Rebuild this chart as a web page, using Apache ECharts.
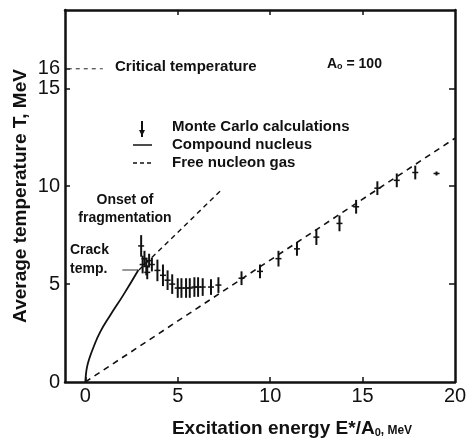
<!DOCTYPE html>
<html>
<head>
<meta charset="utf-8">
<script src="https://cdn.jsdelivr.net/npm/echarts@6/dist/echarts.min.js"></script>
<style>html,body{margin:0;padding:0;background:#fff}#c{width:472px;height:440px}</style>
</head>
<body>
<div id="c"></div>
<script>
// ---- data ----
var xTicks = [0, 5, 10, 15, 20];
var yTickLabels = [0, 5, 10, 15];
var yCriticalLabel = [16];
var yTicksRight = [5, 10, 15];
// Compound nucleus curve (E*/A0, T)
var compoundE = [0, 0.04, 0.1, 0.2, 0.43, 0.8, 1.34, 2.06, 2.87];
var compoundT = [0, 0.45, 0.8, 1.15, 1.75, 2.55, 3.4, 4.45, 5.72];
// Free nucleon gas (straight line)
var gasE = [0, 20];
var gasT = [0, 12.45];
// Onset of fragmentation (dashed)
var onsetE = [2.9, 7.3];
var onsetT = [5.72, 9.75];
// Critical temperature marker
var criticalE = [-0.95, 0.95];
var criticalT = [16, 16];
// Crack temperature pointer
var crackE = [2.0, 2.85];
var crackT = [5.72, 5.72];
// Monte Carlo calculations: energy, temperature, half error
var mcE = [3.02, 3.1, 3.2, 3.3, 3.45, 3.6, 3.35, 3.9, 4.2, 4.45, 4.7, 5.0, 5.2, 5.45, 5.65, 5.9, 6.1, 6.35, 6.8, 7.2, 8.45, 9.45, 10.45, 11.45, 12.5, 13.75, 14.65, 15.8, 16.85, 17.85, 19.0];
var mcT = [6.95, 6.0, 6.3, 5.9, 6.2, 6.0, 5.6, 5.7, 5.45, 5.2, 5.0, 4.8, 4.8, 4.8, 4.8, 4.85, 4.85, 4.85, 4.85, 4.95, 5.3, 5.65, 6.3, 6.8, 7.4, 8.1, 8.95, 9.9, 10.3, 10.7, 10.65];
var mcErr = [0.5, 0.4, 0.35, 0.4, 0.3, 0.3, 0.3, 0.5, 0.5, 0.45, 0.45, 0.45, 0.45, 0.45, 0.45, 0.45, 0.45, 0.4, 0.35, 0.35, 0.3, 0.3, 0.35, 0.3, 0.35, 0.35, 0.3, 0.3, 0.3, 0.3, 0.05];

function pairs(a, b) { return a.map(function (v, i) { return [v, b[i]]; }); }
var mcData = mcE.map(function (v, i) { return [v, mcT[i], mcErr[i]]; });

var FONT = 'Liberation Sans, Arial, sans-serif';
var INK = '#111';
var chart = echarts.init(document.getElementById('c'));

function frameAxis(extra) {
  var base = {
    type: 'value',
    axisLine: { onZero: false, lineStyle: { color: INK, width: 2.5 } },
    splitLine: { show: false }
  };
  for (var k in extra) base[k] = extra[k];
  return base;
}

chart.setOption({
  animation: false,
  backgroundColor: '#fff',
  grid: { left: 65, top: 10, width: 390, height: 372, containLabel: false, outerBoundsMode: 'none' },
  xAxis: [
    frameAxis({ position: 'bottom', min: -1.1, max: 20,
      axisTick: { inside: true, length: 5, customValues: [0, 5, 10, 15], lineStyle: { color: INK, width: 1.5 } },
      axisLabel: { customValues: xTicks, color: INK, fontSize: 20, fontFamily: FONT, margin: 4 } }),
    frameAxis({ position: 'top', min: -1.1, max: 20,
      axisTick: { inside: true, length: 5, customValues: [5, 10, 15], lineStyle: { color: INK, width: 1.5 } },
      axisLabel: { show: false } })
  ],
  yAxis: [
    frameAxis({ position: 'left', min: 0, max: 19,
      name: 'Average temperature T, MeV', nameLocation: 'middle', nameGap: 35, nameRotate: 90, nameMoveOverlap: false,
      nameTextStyle: { color: INK, fontSize: 19, fontWeight: 'bold', fontFamily: FONT },
      axisTick: { inside: true, length: 5, customValues: [5, 10, 15, 16], lineStyle: { color: INK, width: 1.5 } },
      axisLabel: { customValues: yTickLabels, color: INK, fontSize: 20, fontFamily: FONT, margin: 5 } }),
    frameAxis({ position: 'right', min: 0, max: 19,
      axisTick: { inside: true, length: 6, customValues: yTicksRight, lineStyle: { color: INK, width: 1.5 } },
      axisLabel: { show: false } }),
    { type: 'value', position: 'left', min: 0, max: 19,
      axisLine: { show: false, onZero: false }, axisTick: { show: false }, splitLine: { show: false },
      axisLabel: { customValues: yCriticalLabel, color: INK, fontSize: 20, fontFamily: FONT, margin: 5 } }
  ],
  series: [
    { type: 'line', data: pairs(compoundE, compoundT), smooth: 0.5, symbol: 'none', silent: true,
      lineStyle: { color: INK, width: 1.8 } },
    { type: 'line', data: pairs(gasE, gasT), symbol: 'none', silent: true,
      lineStyle: { color: INK, width: 1.6, type: [6, 5] } },
    { type: 'line', data: pairs(onsetE, onsetT), symbol: 'none', silent: true,
      lineStyle: { color: INK, width: 1.4, type: [5, 4] } },
    { type: 'line', data: pairs(criticalE, criticalT), symbol: 'none', silent: true,
      lineStyle: { color: '#444', width: 1.2, type: [4, 4] } },
    { type: 'line', data: pairs(crackE, crackT), symbol: 'none', silent: true,
      lineStyle: { color: '#333', width: 1.2 } },
    { type: 'custom', data: mcData, silent: true,
      renderItem: function (params, api) {
        var x = api.value(0), y = api.value(1), h = api.value(2);
        var t = api.coord([x, y + h]), b = api.coord([x, y - h]), c = api.coord([x, y]);
        return { type: 'group', children: [
          { type: 'line', shape: { x1: t[0], y1: t[1] - 1, x2: b[0], y2: b[1] + 1 }, style: { stroke: INK, lineWidth: 2 } },
          { type: 'line', shape: { x1: c[0] - 3, y1: c[1], x2: c[0] + 3, y2: c[1] }, style: { stroke: INK, lineWidth: 1.5 } }
        ] };
      }
    }
  ],
  graphic: [
    { type: 'text', x: 292, y: 429, style: {
        text: '{a|Excitation energy E*/A}{b|0}{c|, MeV}', align: 'center', verticalAlign: 'middle',
        rich: { a: { fontSize: 19, fontWeight: 'bold', fontFamily: FONT, fill: INK, lineHeight: 22 },
                b: { fontSize: 11, fontWeight: 'bold', fontFamily: FONT, fill: INK, padding: [8, 0, 0, 0] },
                c: { fontSize: 12, fontWeight: 'bold', fontFamily: FONT, fill: INK, padding: [4, 0, 0, 0] } } } },
    { type: 'text', x: 115, y: 67, style: { text: 'Critical temperature', font: 'bold 15px ' + FONT, fill: INK, verticalAlign: 'middle' } },
    { type: 'text', x: 327, y: 64, style: {
        text: '{a|A}{b|o}{a| = 100}', verticalAlign: 'middle',
        rich: { a: { fontSize: 14, fontWeight: 'bold', fontFamily: FONT, fill: INK, lineHeight: 18 },
                b: { fontSize: 9, fontWeight: 'bold', fontFamily: FONT, fill: INK, padding: [6, 0, 0, 0] } } } },
    // legend
    { type: 'line', shape: { x1: 142, y1: 121, x2: 142, y2: 137 }, style: { stroke: INK, lineWidth: 2 } },
    { type: 'polygon', shape: { points: [[139, 130], [145, 130], [142, 136]] }, style: { fill: INK } },
    { type: 'text', x: 172, y: 127, style: { text: 'Monte Carlo calculations', font: 'bold 15px ' + FONT, fill: INK, verticalAlign: 'middle' } },
    { type: 'line', shape: { x1: 133, y1: 145, x2: 152, y2: 145 }, style: { stroke: INK, lineWidth: 1.5 } },
    { type: 'text', x: 172, y: 145, style: { text: 'Compound nucleus', font: 'bold 15px ' + FONT, fill: INK, verticalAlign: 'middle' } },
    { type: 'line', shape: { x1: 133, y1: 163, x2: 152, y2: 163 }, style: { stroke: INK, lineWidth: 1.5, lineDash: [4, 3] } },
    { type: 'text', x: 172, y: 163, style: { text: 'Free nucleon gas', font: 'bold 15px ' + FONT, fill: INK, verticalAlign: 'middle' } },
    // annotations
    { type: 'text', x: 125, y: 200, style: { text: 'Onset of', font: 'bold 14px ' + FONT, fill: INK, align: 'center', verticalAlign: 'middle' } },
    { type: 'text', x: 125, y: 218, style: { text: 'fragmentation', font: 'bold 14px ' + FONT, fill: INK, align: 'center', verticalAlign: 'middle' } },
    { type: 'text', x: 70, y: 250, style: { text: 'Crack', font: 'bold 14px ' + FONT, fill: INK, verticalAlign: 'middle' } },
    { type: 'text', x: 70, y: 269, style: { text: 'temp.', font: 'bold 14px ' + FONT, fill: INK, verticalAlign: 'middle' } }
  ]
});
</script>
</body>
</html>
